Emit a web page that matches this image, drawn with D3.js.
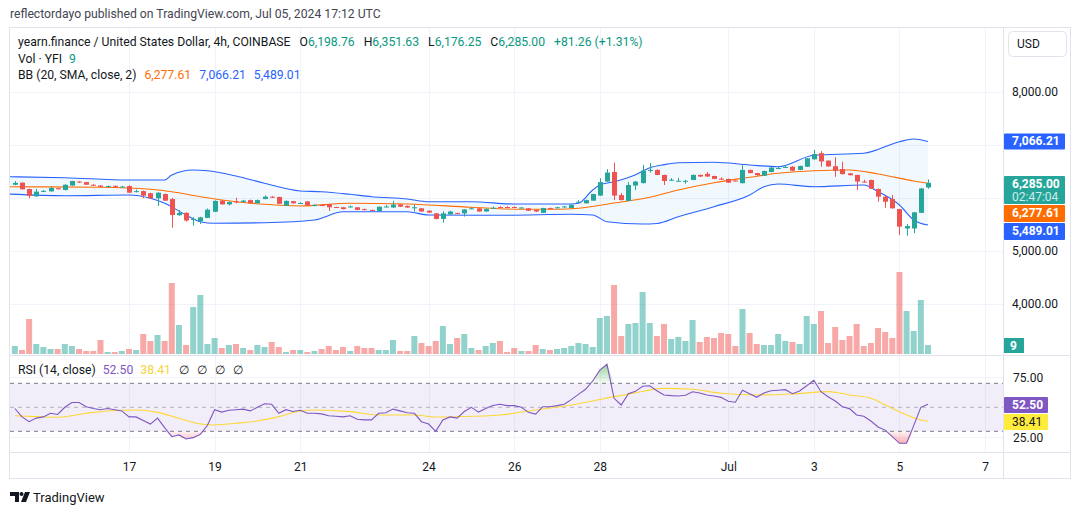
<!DOCTYPE html>
<html>
<head>
<meta charset="utf-8">
<script src="https://cdn.jsdelivr.net/npm/d3@7"></script>
<style>
body { margin: 0; background: #fff; }
svg text { font-family: "Trebuchet MS", Roboto, sans-serif; }
</style>
</head>
<body>
<div id="chart"></div>
<script>
// 4h candles, first bar Jun 14 08:00 UTC, last bar Jul 5 16:00 UTC
var opens = [6250,6290,6170,6030,6115,6125,6185,6150,6235,6310,
  6300,6250,6235,6210,6230,6210,6225,6115,6130,6090,
  5995,6075,5980,5675,5720,5595,5560,5625,5740,5950,
  5880,5935,5925,5960,5900,5980,6025,6020,5855,5940,
  5900,5935,5850,5875,5885,5830,5825,5830,5825,5790,
  5775,5755,5830,5820,5880,5850,5815,5805,5760,5710,
  5605,5690,5715,5710,5800,5805,5745,5805,5830,5830,
  5830,5815,5805,5775,5720,5810,5815,5830,5810,5920,
  5900,5950,6045,6310,6490,6055,5945,6235,6280,6520,
  6530,6435,6335,6320,6315,6340,6435,6455,6415,6365,
  6360,6330,6280,6530,6470,6420,6490,6555,6575,6590,
  6530,6590,6730,6845,6705,6600,6545,6465,6435,6310,
  6340,6170,6025,5980,5790,5425,5425,5720,6198.76];
var highs = [6320,6295,6175,6170,6150,6215,6195,6260,6325,6320,
  6305,6260,6240,6235,6235,6230,6240,6160,6140,6100,
  6110,6085,6000,5775,5730,5640,5645,5800,5955,5960,
  5935,6005,5965,5970,5970,6050,6035,6025,5955,5945,
  5920,5940,5880,5885,5890,5835,5830,5860,5830,5800,
  5780,5840,5870,5945,5885,5860,5875,5810,5765,5715,
  5750,5760,5725,5790,5825,5810,5800,5840,5845,5845,
  5840,5830,5810,5780,5815,5820,5835,5850,5880,5960,
  5970,6080,6370,6545,6665,6095,6300,6320,6625,6660,
  6540,6440,6375,6380,6340,6445,6445,6490,6420,6390,
  6365,6335,6620,6535,6475,6515,6580,6600,6620,6600,
  6610,6755,6905,6885,6710,6770,6685,6475,6440,6345,
  6345,6180,6035,6055,5795,5510,5735,6190,6351.63];
var lows = [6240,6160,5995,6025,6110,6120,6160,6145,6230,6290,
  6245,6230,6205,6205,6205,6200,6095,6105,5995,5990,
  5850,5945,5440,5665,5555,5480,5510,5620,5735,5875,
  5860,5900,5915,5895,5895,5975,6000,5885,5850,5895,
  5890,5855,5840,5845,5755,5815,5785,5820,5770,5770,
  5750,5750,5825,5815,5830,5815,5745,5740,5720,5595,
  5535,5685,5700,5650,5790,5740,5740,5800,5815,5815,
  5815,5805,5755,5735,5715,5795,5805,5820,5805,5910,
  5895,5945,6040,6305,5960,5955,5940,6150,6275,6480,
  6430,6245,6325,6320,6270,6335,6400,6400,6355,6340,
  6285,6315,6275,6465,6420,6415,6485,6550,6570,6510,
  6525,6585,6725,6590,6590,6400,6445,6425,6150,6290,
  6170,5930,5815,5800,5300,5290,5335,5715,6176.25];
var closes = [6285,6165,6040,6120,6135,6190,6165,6250,6320,6295,
  6250,6240,6210,6225,6210,6215,6100,6130,6045,5995,
  6100,5950,5680,5720,5575,5605,5635,5780,5945,5880,
  5925,5925,5950,5900,5960,6025,6015,5890,5945,5900,
  5905,5860,5870,5850,5825,5825,5790,5840,5775,5775,
  5755,5835,5840,5875,5835,5820,5825,5745,5725,5605,
  5710,5745,5705,5785,5805,5745,5795,5815,5820,5820,
  5820,5820,5760,5745,5810,5800,5825,5840,5870,5930,
  5960,6075,6300,6480,6045,5960,6245,6310,6515,6530,
  6435,6320,6345,6325,6325,6435,6405,6405,6360,6355,
  6290,6320,6530,6470,6430,6510,6575,6565,6585,6515,
  6605,6750,6830,6690,6595,6515,6450,6430,6310,6305,
  6175,6025,5930,5805,5460,5470,5730,6180,6285];
// volume in YFI
var volumes = [8,4,35,10,7,5,5,10,8,5,
  3,3,14,2,2,3,5,4,20,13,
  19,13,71,29,9,47,59,10,16,6,
  9,10,6,4,9,7,12,7,2,4,
  4,2,3,5,8,4,7,3,8,6,
  6,4,4,14,3,3,18,11,8,13,
  28,10,16,20,6,4,8,11,13,2,
  6,3,3,9,5,4,5,6,8,11,
  10,7,36,38,69,18,30,31,62,31,
  18,30,15,17,13,34,12,17,16,21,
  20,8,45,21,10,9,9,20,13,12,
  10,38,30,43,11,27,14,18,30,8,
  11,26,22,16,82,43,23,54,9];
// rsi(14) for every bar
var rsiValues = [49,42,38,41,42,45,44,50,54,54,
  50.5,49,48,49,48,47,42,42,39,36,
  41,33,25.5,27,23.6,24.7,27.5,35,48,46,
  47.5,48,48.5,47,50,53,52.5,45,48,46.5,
  47.5,45,45,44.5,43,42.5,42,43,40,39.5,
  39.5,45,45.5,48.5,47,45.5,45,38,36,30,
  39.5,42,41,46.5,50,46,49,51.5,52.5,51.4,
  51.4,50,45.8,44.4,50.5,50.5,51.4,52.5,56.4,60.8,
  65,71.9,81,85.8,57.5,51.9,61.3,63.3,67.5,68,
  63.8,60.2,59.7,59.4,60,63,61.9,60.2,59.4,58.3,
  55,54.2,64.2,61.3,58.3,61.9,63.8,64.2,64.7,61.3,
  63.6,68,72.5,63,58.8,55.2,50.5,48.9,43.6,42.5,
  38.6,33.6,31,25.5,20,20,34.7,50,52.5];
// rsi moving average, read at some bars
var rsiMaBars = [0,3,6,10,13,17,20,23,26,28,31,34,37,40,42,47,51,56,59,62,68,73,78,81,84,86,91,95,99,104,109,114,117,120,122,125,127,128];
var rsiMaValues = [43,42.2,41.7,45,46.9,47.7,45.8,40.8,36.1,35.3,36.7,38.6,42.2,46.9,47.7,46.4,43.6,43.6,41.9,42.2,43.6,47.7,51.9,55.3,58.9,60.8,65.8,65,61.7,60.3,61.1,63.1,60.3,57.5,51.9,43.6,39.4,38.41];
// bollinger bands (20, 2), read at some bars
var upperBars = [-1,7,16,21,22,25,27,31,35,40,43,47,50,55,58,64,70,78,79,81,82,84,87,89,91,93,98,103,107,112,119,124,126,128];
var upperValues = [6402,6383,6340,6340,6434,6528,6515,6415,6277,6132,6119,6070,6025,5981,5930,5930,5887,5887,5900,6151,6245,6308,6440,6570,6630,6666,6674,6623,6591,6806,6843,7062,7113,7066.21];
var basisBars = [-1,12,19,22,26,31,35,40,47,55,64,71,76,79,84,89,93,98,103,107,112,117,121,126,128];
var basisValues = [6213,6202,6164,6119,6025,5930,5881,5849,5900,5887,5825,5787,5787,5806,5906,6013,6151,6289,6391,6466,6515,6528,6453,6321,6277.61];
var lowerBars = [-1,7,16,19,21,24,26,28,35,42,46,55,58,69,78,81,83,88,90,93,98,103,105,107,112,119,121,124,126,128];
var lowerValues = [6075,6043,6057,5994,5900,5679,5553,5523,5534,5585,5740,5741,5679,5674,5692,5679,5553,5509,5519,5647,5836,6057,6213,6264,6213,6245,6119,5868,5585,5489.01];
// axis ticks
var dayTicks = ["2024-06-17","2024-06-19","2024-06-21","2024-06-24","2024-06-26","2024-06-28","2024-07-01","2024-07-03","2024-07-05","2024-07-07"];
var dayLabels = ["17","19","21","24","26","28","Jul","3","5","7"];
var priceTicks = [8000,5000,4000];
var priceGrid = [4000,5000,6000,7000,8000];
var rsiTicks = [75,25];

var svgWidth = 1080;
var svgHeight = 515;

// areas of the panes
var plotLeft = 10, plotRight = 1003;
var mainTop = 28, mainBottom = 355;
var rsiTop = 356, rsiBottom = 452;

var green = "#26a69a", red = "#ef5350";
var textColor = "#131722";

var svg = d3.select("#chart")
  .append("svg")
  .attr("width", svgWidth)
  .attr("height", svgHeight);

svg.append("rect").attr("width", svgWidth).attr("height", svgHeight).attr("fill", "#fff");

var t0 = Date.UTC(2024, 5, 14, 8);
function barTime(i) { return new Date(t0 + i * 4 * 3600 * 1000); }

var xScale = d3.scaleUtc()
  .domain([new Date(Date.UTC(2024, 5, 14, 5, 17)), new Date(Date.UTC(2024, 6, 7, 10, 4))])
  .range([plotLeft, plotRight]);
var yPrice = d3.scaleLinear().domain([4000, 8000]).range([304, 92]);
var yVol = d3.scaleLinear().domain([0, 100]).range([354, 254]);
var yRsi = d3.scaleLinear().domain([25, 75]).range([437.3, 377.3]);

var bars = d3.range(opens.length).map(function(i) {
  return {i: i, o: opens[i], h: highs[i], l: lows[i], c: closes[i], v: volumes[i], r: rsiValues[i]};
});

var defs = svg.append("defs");
defs.append("clipPath").attr("id", "mainClip").append("rect")
  .attr("x", plotLeft).attr("y", mainTop).attr("width", plotRight - plotLeft).attr("height", mainBottom - mainTop);
defs.append("clipPath").attr("id", "rsiClip").append("rect")
  .attr("x", plotLeft).attr("y", rsiTop).attr("width", plotRight - plotLeft).attr("height", rsiBottom - rsiTop);

var obGrad = defs.append("linearGradient").attr("id", "obGrad")
  .attr("gradientUnits", "userSpaceOnUse").attr("x1", 0).attr("x2", 0)
  .attr("y1", yRsi(86)).attr("y2", yRsi(70));
obGrad.append("stop").attr("offset", 0).attr("stop-color", "rgba(76,175,80,0.55)");
obGrad.append("stop").attr("offset", 1).attr("stop-color", "rgba(76,175,80,0.05)");
var osGrad = defs.append("linearGradient").attr("id", "osGrad")
  .attr("gradientUnits", "userSpaceOnUse").attr("x1", 0).attr("x2", 0)
  .attr("y1", yRsi(30)).attr("y2", yRsi(20));
osGrad.append("stop").attr("offset", 0).attr("stop-color", "rgba(242,54,69,0.05)");
osGrad.append("stop").attr("offset", 1).attr("stop-color", "rgba(242,54,69,0.4)");

// header text above chart
svg.append("text")
  .attr("x", 10).attr("y", 18)
  .attr("font-size", "12.2px").attr("fill", "#434651")
  .text("reflectordayo published on TradingView.com, Jul 05, 2024 17:12 UTC");

// frame around the chart
svg.append("rect")
  .attr("x", 9.5).attr("y", 27.5).attr("width", 1061).attr("height", 451)
  .attr("fill", "none").attr("stroke", "#e0e3eb");

// grid lines
var gridGroup = svg.append("g");
dayTicks.forEach(function(d) {
  var x = Math.round(xScale(new Date(d + "T00:00:00Z"))) + 0.5;
  gridGroup.append("line").attr("x1", x).attr("x2", x).attr("y1", mainTop).attr("y2", rsiBottom)
    .attr("stroke", "#f0f3fa");
});
priceGrid.forEach(function(p) {
  var y = Math.round(yPrice(p)) + 0.5;
  gridGroup.append("line").attr("x1", plotLeft).attr("x2", plotRight).attr("y1", y).attr("y2", y)
    .attr("stroke", "#f0f3fa");
});
rsiTicks.forEach(function(r) {
  var y = Math.round(yRsi(r)) + 0.5;
  gridGroup.append("line").attr("x1", plotLeft).attr("x2", plotRight).attr("y1", y).attr("y2", y)
    .attr("stroke", "#f0f3fa");
});

// pane separators
svg.append("line").attr("x1", plotLeft).attr("x2", 1070).attr("y1", 355.5).attr("y2", 355.5).attr("stroke", "#e0e3eb");
svg.append("line").attr("x1", plotLeft).attr("x2", 1070).attr("y1", 452.5).attr("y2", 452.5).attr("stroke", "#e0e3eb");
svg.append("line").attr("x1", 1003.5).attr("x2", 1003.5).attr("y1", mainTop).attr("y2", 478).attr("stroke", "#e0e3eb");

var mainGroup = svg.append("g").attr("clip-path", "url(#mainClip)");

// volume bars
mainGroup.selectAll(".vol")
  .data(bars)
  .enter()
  .append("rect")
  .attr("x", d => xScale(barTime(d.i)) - 3)
  .attr("width", 6)
  .attr("y", d => yVol(d.v))
  .attr("height", d => yVol(0) - yVol(d.v))
  .attr("fill", d => d.c >= d.o ? green : red)
  .attr("opacity", 0.5);

// bollinger band fill and lines
function bandPoints(barsArr, vals) {
  return barsArr.map(function(b, k) { return [xScale(barTime(b)), yPrice(vals[k])]; });
}
var upperPts = bandPoints(upperBars, upperValues);
var basisPts = bandPoints(basisBars, basisValues);
var lowerPts = bandPoints(lowerBars, lowerValues);

var curveLine = d3.line().curve(d3.curveMonotoneX);
var fillPath = curveLine(upperPts) + "L" + curveLine(lowerPts.slice().reverse()).slice(1) + "Z";
mainGroup.append("path").attr("d", fillPath).attr("fill", "rgba(33,150,243,0.06)");
mainGroup.append("path").attr("d", curveLine(upperPts)).attr("fill", "none").attr("stroke", "#2962ff").attr("stroke-width", 1.1);
mainGroup.append("path").attr("d", curveLine(lowerPts)).attr("fill", "none").attr("stroke", "#2962ff").attr("stroke-width", 1.1);
mainGroup.append("path").attr("d", curveLine(basisPts)).attr("fill", "none").attr("stroke", "#ff6d00").attr("stroke-width", 1.1);

// candles
var candles = mainGroup.selectAll(".candle")
  .data(bars)
  .enter()
  .append("g");
candles.append("line")
  .attr("x1", d => Math.round(xScale(barTime(d.i))) + 0.5)
  .attr("x2", d => Math.round(xScale(barTime(d.i))) + 0.5)
  .attr("y1", d => yPrice(d.h))
  .attr("y2", d => yPrice(d.l))
  .attr("stroke", d => d.c >= d.o ? green : red);
candles.append("rect")
  .attr("x", d => Math.round(xScale(barTime(d.i))) - 2)
  .attr("width", 5)
  .attr("y", d => yPrice(Math.max(d.o, d.c)))
  .attr("height", d => Math.max(1, Math.abs(yPrice(d.o) - yPrice(d.c))))
  .attr("fill", d => d.c >= d.o ? green : red);

// legend in main pane
var legend = svg.append("g").attr("font-size", "12.2px").attr("fill", textColor);
var l1 = legend.append("text").attr("x", 18).attr("y", 46);
l1.append("tspan").text("yearn.finance / United States Dollar, 4h, COINBASE");
[["O", "6,198.76"], ["H", "6,351.63"], ["L", "6,176.25"], ["C", "6,285.00"]].forEach(function(p) {
  l1.append("tspan").attr("dx", 9).text(p[0]);
  l1.append("tspan").attr("fill", "#089981").text(p[1]);
});
l1.append("tspan").attr("dx", 9).attr("fill", "#089981").text("+81.26 (+1.31%)");
var l2 = legend.append("text").attr("x", 18).attr("y", 63);
l2.append("tspan").text("Vol · YFI");
l2.append("tspan").attr("dx", 7).attr("fill", "#089981").text("9");
var l3 = legend.append("text").attr("x", 18).attr("y", 79);
l3.append("tspan").text("BB (20, SMA, close, 2)");
l3.append("tspan").attr("dx", 8).attr("fill", "#ff6d00").text("6,277.61");
l3.append("tspan").attr("dx", 8).attr("fill", "#2962ff").text("7,066.21");
l3.append("tspan").attr("dx", 8).attr("fill", "#2962ff").text("5,489.01");

// rsi pane
var rsiGroup = svg.append("g").attr("clip-path", "url(#rsiClip)");
rsiGroup.append("rect")
  .attr("x", plotLeft).attr("width", plotRight - plotLeft)
  .attr("y", yRsi(70)).attr("height", yRsi(30) - yRsi(70))
  .attr("fill", "rgba(126,87,194,0.1)");
[[70, "#787b86"], [50, "rgba(120,123,134,0.5)"], [30, "#787b86"]].forEach(function(h) {
  rsiGroup.append("line")
    .attr("x1", plotLeft).attr("x2", plotRight)
    .attr("y1", yRsi(h[0])).attr("y2", yRsi(h[0]))
    .attr("stroke", h[1]).attr("stroke-dasharray", "4,4");
});

var obArea = d3.area()
  .x(d => xScale(barTime(d.i)))
  .y0(yRsi(70))
  .y1(d => yRsi(Math.max(d.r, 70)));
var osArea = d3.area()
  .x(d => xScale(barTime(d.i)))
  .y0(yRsi(30))
  .y1(d => yRsi(Math.min(d.r, 30)));
rsiGroup.append("path").datum(bars).attr("d", obArea).attr("fill", "url(#obGrad)");
rsiGroup.append("path").datum(bars).attr("d", osArea).attr("fill", "url(#osGrad)");

var maPts = rsiMaBars.map(function(b, k) { return [xScale(barTime(b)), yRsi(rsiMaValues[k])]; });
rsiGroup.append("path").attr("d", curveLine(maPts)).attr("fill", "none").attr("stroke", "#fdd835").attr("stroke-width", 1.1);

var rsiLine = d3.line()
  .x(d => xScale(barTime(d.i)))
  .y(d => yRsi(d.r));
rsiGroup.append("path").datum(bars).attr("d", rsiLine).attr("fill", "none").attr("stroke", "#7e57c2").attr("stroke-width", 1.1);

var rl = svg.append("text").attr("x", 18).attr("y", 374).attr("font-size", "12.2px").attr("fill", textColor);
rl.append("tspan").text("RSI (14, close)");
rl.append("tspan").attr("dx", 7).attr("fill", "#7e57c2").text("52.50");
rl.append("tspan").attr("dx", 7).attr("fill", "#f5d33b").text("38.41");
["∅", "∅", "∅", "∅"].forEach(function(s) { rl.append("tspan").attr("dx", 8).text(s); });

// time axis
var timeAxis = d3.axisBottom(xScale)
  .tickValues(dayTicks.map(d => new Date(d + "T00:00:00Z")))
  .tickFormat((d, k) => dayLabels[k])
  .tickSize(0)
  .tickPadding(0);
svg.append("g")
  .attr("transform", "translate(0, 462)")
  .call(timeAxis)
  .call(g => g.select(".domain").remove())
  .selectAll("text")
  .attr("font-size", "12px")
  .attr("fill", textColor)
  .attr("font-family", "\"Trebuchet MS\", Roboto, sans-serif");

// price axis
var priceAxis = d3.axisRight(yPrice)
  .tickValues(priceTicks)
  .tickFormat(d3.format(",.2f"))
  .tickSize(0)
  .tickPadding(0);
svg.append("g")
  .attr("transform", "translate(1012, 0)")
  .call(priceAxis)
  .call(g => g.select(".domain").remove())
  .selectAll("text")
  .attr("font-size", "12px")
  .attr("fill", textColor)
  .attr("font-family", "\"Trebuchet MS\", Roboto, sans-serif");

var rsiAxis = d3.axisRight(yRsi)
  .tickValues(rsiTicks)
  .tickFormat(d3.format(".2f"))
  .tickSize(0)
  .tickPadding(0);
svg.append("g")
  .attr("transform", "translate(1013, 0)")
  .call(rsiAxis)
  .call(g => g.select(".domain").remove())
  .selectAll("text")
  .attr("font-size", "12px")
  .attr("fill", textColor)
  .attr("font-family", "\"Trebuchet MS\", Roboto, sans-serif");

// USD box
svg.append("rect").attr("x", 1008.5).attr("y", 31.5).attr("width", 58).attr("height", 25).attr("rx", 4)
  .attr("fill", "#fff").attr("stroke", "#e0e3eb");
svg.append("text").attr("x", 1017).attr("y", 48).attr("font-size", "12px").attr("fill", textColor).text("USD");

// value labels on the scales
function scaleLabel(y, h, w, fill, color, lines, bold) {
  svg.append("rect").attr("x", 1004).attr("y", y).attr("width", w).attr("height", h).attr("rx", 1).attr("fill", fill);
  lines.forEach(function(s, k) {
    svg.append("text").attr("x", 1012).attr("y", y + 12 + k * 13)
      .attr("font-size", "12px").attr("font-weight", k == 0 && bold ? "bold" : "normal")
      .attr("fill", k == 0 ? color : "rgba(255,255,255,0.8)").text(s);
  });
}
scaleLabel(yPrice(7066.21) - 8, 16, 61, "#2962ff", "#fff", ["7,066.21"], true);
scaleLabel(176, 28, 61, green, "#fff", ["6,285.00", "02:47:04"], true);
scaleLabel(205, 17, 61, "#ff6d00", "#fff", ["6,277.61"], true);
scaleLabel(223, 17, 61, "#2962ff", "#fff", ["5,489.01"], true);
svg.append("rect").attr("x", 1004).attr("y", 338).attr("width", 20).attr("height", 15).attr("fill", green);
svg.append("text").attr("x", 1010).attr("y", 350).attr("font-size", "12px").attr("font-weight", "bold").attr("fill", "#fff").text("9");
scaleLabel(397, 16, 44, "#7e57c2", "#fff", ["52.50"], true);
scaleLabel(414, 16, 44, "#ffeb3b", textColor, ["38.41"], false);

// tradingview logo at bottom
var logo = svg.append("g").attr("fill", textColor);
logo.append("path").attr("d", "M10,492 H19 V502 H15 V496 H10 Z");
logo.append("circle").attr("cx", 21.5).attr("cy", 494).attr("r", 2);
logo.append("path").attr("d", "M25,492 H30 L26,502 H21 Z");
svg.append("text").attr("x", 33).attr("y", 502).attr("font-size", "13px").attr("fill", textColor).text("TradingView");
</script>
</body>
</html>
